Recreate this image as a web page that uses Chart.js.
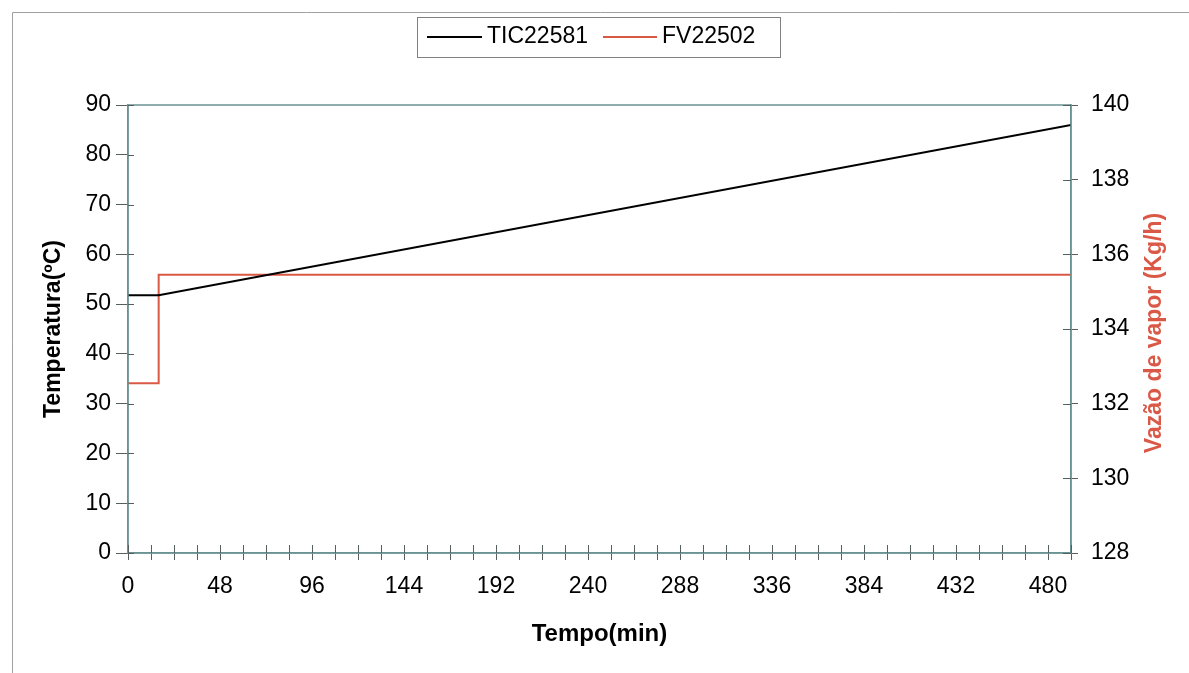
<!DOCTYPE html>
<html>
<head>
<meta charset="utf-8">
<script src="https://cdn.jsdelivr.net/npm/chart.js@4/dist/chart.umd.min.js"></script>
<style>
  html, body { margin: 0; padding: 0; background: #fff; }
  #wrap { width: 1189px; height: 673px; }
</style>
</head>
<body>
<div id="wrap"><canvas id="myChart" width="1189" height="673"></canvas></div>
<script>
// values
let ticTimes = [0, 16, 492];
let ticValues = [51.8, 51.8, 86];
let fvTimes = [0, 16, 16, 492];
let fvValues = [132.55, 132.55, 135.45, 135.45];
let seriesNames = ['TIC22581', 'FV22502'];

const FONT = "'Liberation Sans', Arial, sans-serif";
const AXIS = '#6a9293';
const TICK = '#555f60';
const RED = 'rgb(218,88,70)';

function toPoints(xs, ys) {
    let pts = [];
    for (let i = 0; i < xs.length; i++) {
        pts.push({ x: xs[i], y: ys[i] });
    }
    return pts;
}

// legend box, plot frame, inner tick marks and the right axis title
const extras = {
    id: 'extras',
    afterDraw(chart) {
        let ctx = chart.ctx;
        let a = chart.chartArea;
        ctx.save();

        // outer frame of the sheet
        ctx.strokeStyle = '#a0a0a0';
        ctx.lineWidth = 1;
        ctx.beginPath();
        ctx.moveTo(12.5, 673);
        ctx.lineTo(12.5, 12.5);
        ctx.lineTo(1189, 12.5);
        ctx.stroke();

        // plot frame
        ctx.strokeStyle = AXIS;
        ctx.lineWidth = 1.5;
        ctx.strokeRect(a.left, a.top, a.right - a.left, a.bottom - a.top);

        // tick marks also reach a little inside the plot
        ctx.strokeStyle = TICK;
        ctx.lineWidth = 1;
        let xs = chart.scales.x;
        xs.ticks.forEach(t => {
            let px = Math.round(xs.getPixelForValue(t.value)) + 0.5;
            ctx.beginPath();
            ctx.moveTo(px, a.bottom);
            ctx.lineTo(px, a.bottom - 8);
            ctx.stroke();
        });
        let ys = chart.scales.y;
        ys.ticks.forEach(t => {
            let py = Math.round(ys.getPixelForValue(t.value)) + 0.5;
            ctx.beginPath();
            ctx.moveTo(a.left, py);
            ctx.lineTo(a.left + 6, py);
            ctx.stroke();
        });
        let ys1 = chart.scales.y1;
        ys1.ticks.forEach(t => {
            let py = Math.round(ys1.getPixelForValue(t.value)) + 0.5;
            ctx.beginPath();
            ctx.moveTo(a.right, py);
            ctx.lineTo(a.right - 8, py);
            ctx.stroke();
        });

        // legend
        ctx.strokeStyle = '#808080';
        ctx.lineWidth = 1;
        ctx.strokeRect(417.5, 17.5, 363, 40);
        ctx.font = '23px ' + FONT;
        ctx.textBaseline = 'middle';
        ctx.textAlign = 'left';
        let items = [
            { x1: 427, x2: 482, tx: 487, color: '#000', name: seriesNames[0] },
            { x1: 603, x2: 657, tx: 662, color: RED, name: seriesNames[1] }
        ];
        items.forEach(it => {
            ctx.strokeStyle = it.color;
            ctx.lineWidth = 2;
            ctx.beginPath();
            ctx.moveTo(it.x1, 37);
            ctx.lineTo(it.x2, 37);
            ctx.stroke();
            ctx.fillStyle = '#000';
            ctx.fillText(it.name, it.tx, 37);
        });

        // right axis title, reading upwards
        ctx.translate(1155, 333);
        ctx.rotate(-Math.PI / 2);
        ctx.font = 'bold 23px ' + FONT;
        ctx.fillStyle = RED;
        ctx.textAlign = 'center';
        ctx.fillText('Vazão de vapor (Kg/h)', 0, 0);
        ctx.restore();
    }
};

const ctx = document.getElementById('myChart');
const chart = new Chart(ctx, {
    type: 'line',
    data: {
        datasets: [{
            label: seriesNames[0],
            data: toPoints(ticTimes, ticValues),
            borderColor: '#000',
            borderWidth: 2,
            pointRadius: 0,
            yAxisID: 'y'
        }, {
            label: seriesNames[1],
            data: toPoints(fvTimes, fvValues),
            borderColor: RED,
            borderWidth: 2,
            pointRadius: 0,
            yAxisID: 'y1'
        }]
    },
    options: {
        responsive: false,
        animation: false,
        layout: { padding: { top: 105, left: 0, right: 0, bottom: 0 } },
        plugins: {
            legend: { display: false },
            tooltip: { enabled: false }
        },
        scales: {
            x: {
                type: 'linear',
                min: 0,
                max: 492,
                afterFit: s => { s.height = 120; },
                border: { color: AXIS, width: 1.5 },
                grid: { drawOnChartArea: false, color: TICK, tickLength: 7 },
                ticks: {
                    stepSize: 12,
                    autoSkip: false,
                    maxRotation: 0,
                    padding: 13,
                    color: '#000',
                    font: { family: FONT, size: 23 },
                    callback: v => (v % 48 === 0 ? String(v) : '')
                },
                title: {
                    display: true,
                    text: 'Tempo(min)',
                    color: '#000',
                    font: { family: FONT, size: 24, weight: 'bold' },
                    padding: { top: 0, bottom: 24 }
                }
            },
            y: {
                position: 'left',
                min: 0,
                max: 90,
                afterFit: s => { s.width = 128; },
                border: { color: AXIS, width: 1.5 },
                grid: { drawOnChartArea: false, color: TICK, tickLength: 12 },
                ticks: {
                    stepSize: 10,
                    padding: 5,
                    color: '#000',
                    font: { family: FONT, size: 23 }
                },
                title: {
                    display: true,
                    text: 'Temperatura(ºC)',
                    color: '#000',
                    font: { family: FONT, size: 23, weight: 'bold' },
                    padding: { top: 40, bottom: 0 }
                }
            },
            y1: {
                position: 'right',
                min: 128,
                max: 140,
                afterFit: s => { s.width = 118; },
                border: { color: AXIS, width: 1.5 },
                grid: { drawOnChartArea: false, color: TICK, tickLength: 7 },
                ticks: {
                    stepSize: 2,
                    padding: 13,
                    color: '#000',
                    font: { family: FONT, size: 23 }
                }
            }
        }
    },
    plugins: [extras]
});
</script>
</body>
</html>
